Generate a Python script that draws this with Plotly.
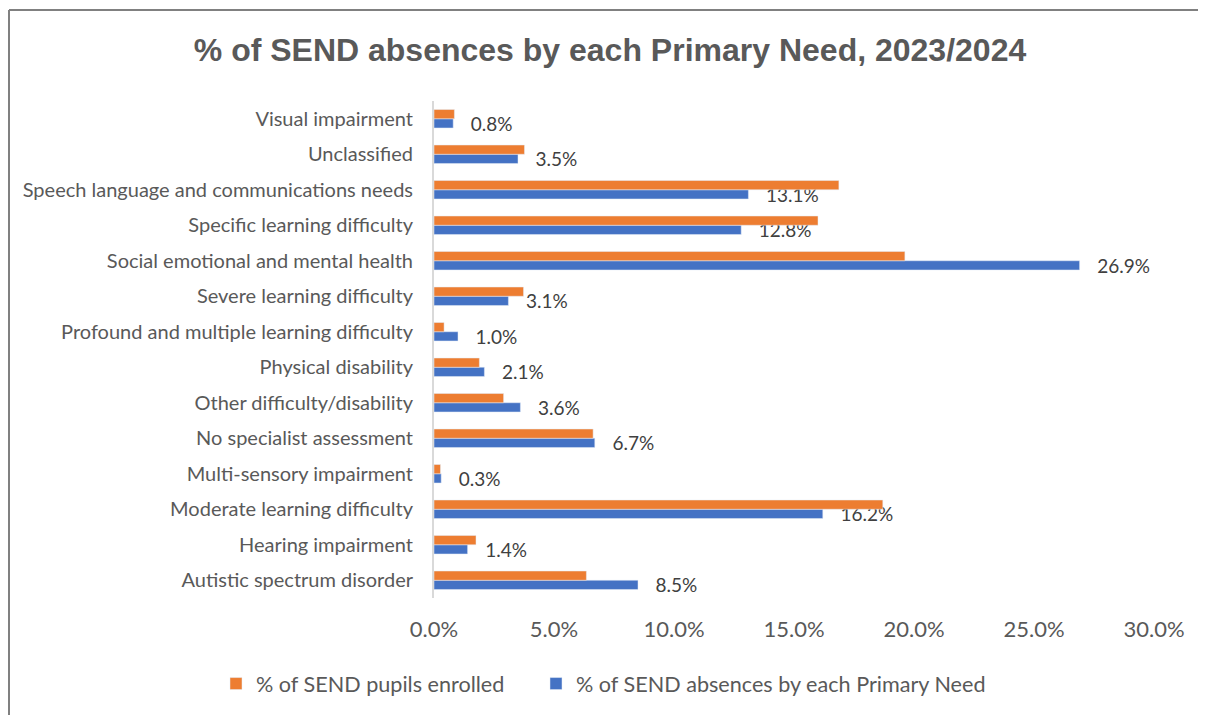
import plotly.graph_objects as go

# categories listed bottom -> top (plotly puts first category at the bottom)
needs = [
    "Autistic spectrum disorder",
    "Hearing impairment",
    "Moderate learning difficulty",
    "Multi-sensory impairment",
    "No specialist assessment",
    "Other difficulty/disability",
    "Physical disability",
    "Profound and multiple learning difficulty",
    "Severe learning difficulty",
    "Social emotional and mental health",
    "Specific learning difficulty",
    "Speech language and communications needs",
    "Unclassified",
    "Visual impairment",
]
enrolled = [6.35, 1.75, 18.7, 0.27, 6.63, 2.9, 1.89, 0.42, 3.73, 19.62, 16.0, 16.87, 3.77, 0.85]
absences = [8.5, 1.4, 16.2, 0.3, 6.7, 3.6, 2.1, 1.0, 3.1, 26.9, 12.8, 13.1, 3.5, 0.8]
x_ticks = [0, 5, 10, 15, 20, 25, 30]

# page body has an 8px margin, so the figure is drawn 8px in from the corner
W, H = 1198, 707
L, R, T, B = 426, 52, 93, 117
pw, ph = W - L - R, H - T - B

fig = go.Figure()
fig.add_trace(go.Bar(
    y=needs, x=absences, orientation="h",
    name="% of SEND absences by each Primary Need",
    marker=dict(color="#4472c4"),
    text=["   %.1f%%" % v for v in absences],
    textposition="outside", cliponaxis=False, constraintext="none",
    textfont=dict(size=19, color="#404040", family="Lato"),
    legend="legend2",
))
fig.add_trace(go.Bar(
    y=needs, x=enrolled, orientation="h",
    name="% of SEND pupils enrolled",
    marker=dict(color="#ed7d31"),
    legend="legend",
))

# chart-area border (grey frame like the source)
top = 1 + (T - 2) / ph
fig.add_shape(type="line", xref="paper", yref="paper",
              x0=(1 - L) / pw, x1=(W + 10 - L) / pw, y0=top, y1=top,
              line=dict(color="#808080", width=2))
fig.add_shape(type="line", xref="paper", yref="paper",
              x0=(1 - L) / pw, x1=(1 - L) / pw, y0=top, y1=-(B + 10) / ph,
              line=dict(color="#808080", width=2))

leg_y = 1 - 676 / H
leg_style = dict(orientation="h", xref="container", yref="container",
                 xanchor="left", yanchor="middle", y=leg_y,
                 font=dict(size=21.6, color="#595959"), itemwidth=30,
                 bgcolor="rgba(0,0,0,0)")

fig.update_layout(
    width=W, height=H,
    margin=dict(l=L, r=R, t=T, b=B),
    paper_bgcolor="white", plot_bgcolor="white",
    barmode="group", bargap=0.48, bargroupgap=0,
    title=dict(text="<b>% of SEND absences by each Primary Need, 2023/2024</b>",
               x=602 / W, xanchor="center", y=1 - 42 / H, yanchor="middle",
               font=dict(family="Liberation Sans", size=32, color="#595959")),
    font=dict(family="Lato", size=20, color="#595959"),
    legend=dict(leg_style, x=208 / W),
    legend2=dict(leg_style, x=528 / W),
    showlegend=True,
)
fig.update_xaxes(range=[0, 30], tickvals=x_ticks,
                 ticktext=["%.1f%%" % v for v in x_ticks],
                 showgrid=False, zeroline=False, showline=False,
                 ticks="", ticklabelstandoff=16,
                 tickfont=dict(size=22, color="#595959"))
fig.update_yaxes(showgrid=False, zeroline=False,
                 showline=True, linecolor="#d9d9d9", linewidth=2,
                 ticks="", ticklabelstandoff=15,
                 tickfont=dict(size=20, color="#595959"))

fig.write_html("out.html")
